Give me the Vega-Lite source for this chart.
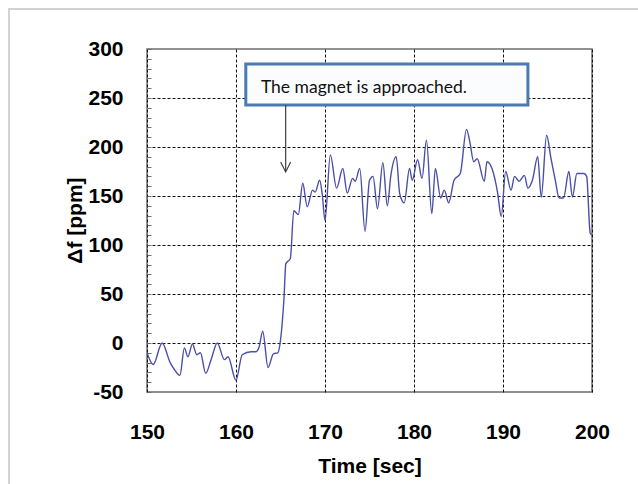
{
  "$schema": "https://vega.github.io/schema/vega-lite/v6.json",
  "width": 445,
  "height": 343,
  "autosize": {"type": "none"},
  "padding": {"left": 147, "top": 49, "right": 46, "bottom": 92},
  "background": "white",
  "config": {
    "view": {"stroke": "#6e6e6e", "strokeWidth": 1.5},
    "font": "Liberation Sans"
  },
  "datasets": {
    "series": [
      {"t": 150.0, "v": -10}, {"t": 150.7, "v": -22}, {"t": 151.7, "v": 0}, {"t": 152.6, "v": -20},
      {"t": 153.0, "v": -26}, {"t": 153.7, "v": -33}, {"t": 154.2, "v": -5}, {"t": 154.6, "v": -14},
      {"t": 155.1, "v": -1}, {"t": 155.6, "v": -12}, {"t": 156.0, "v": -10}, {"t": 156.6, "v": -31},
      {"t": 157.2, "v": -17}, {"t": 157.9, "v": 0}, {"t": 158.7, "v": -17}, {"t": 159.1, "v": -14},
      {"t": 160.0, "v": -38}, {"t": 160.7, "v": -12}, {"t": 161.7, "v": -9}, {"t": 162.2, "v": -9},
      {"t": 162.6, "v": -4}, {"t": 163.0, "v": 12}, {"t": 163.6, "v": -25}, {"t": 164.2, "v": -11},
      {"t": 164.7, "v": -10}, {"t": 165.0, "v": 3}, {"t": 165.4, "v": 47}, {"t": 165.6, "v": 81},
      {"t": 166.1, "v": 86}, {"t": 166.5, "v": 135}, {"t": 167.0, "v": 131}, {"t": 167.5, "v": 163},
      {"t": 168.0, "v": 139}, {"t": 168.6, "v": 156}, {"t": 168.9, "v": 154}, {"t": 169.4, "v": 166},
      {"t": 169.7, "v": 151}, {"t": 170.0, "v": 125}, {"t": 170.6, "v": 192}, {"t": 171.3, "v": 158},
      {"t": 172.0, "v": 178}, {"t": 172.5, "v": 153}, {"t": 173.1, "v": 168}, {"t": 173.4, "v": 165},
      {"t": 173.9, "v": 178}, {"t": 174.5, "v": 114}, {"t": 175.0, "v": 166}, {"t": 175.4, "v": 170},
      {"t": 175.9, "v": 137}, {"t": 176.5, "v": 184}, {"t": 177.0, "v": 140}, {"t": 177.4, "v": 171},
      {"t": 178.0, "v": 190}, {"t": 178.4, "v": 152}, {"t": 178.9, "v": 143}, {"t": 179.5, "v": 178},
      {"t": 179.8, "v": 166}, {"t": 180.4, "v": 187}, {"t": 180.9, "v": 168}, {"t": 181.4, "v": 207},
      {"t": 182.0, "v": 132}, {"t": 182.4, "v": 178}, {"t": 183.0, "v": 148}, {"t": 183.4, "v": 156},
      {"t": 183.9, "v": 143}, {"t": 184.5, "v": 166}, {"t": 185.2, "v": 173}, {"t": 185.9, "v": 218},
      {"t": 186.3, "v": 204}, {"t": 186.7, "v": 185}, {"t": 187.1, "v": 188}, {"t": 187.9, "v": 165},
      {"t": 188.2, "v": 185}, {"t": 188.8, "v": 177}, {"t": 189.4, "v": 153}, {"t": 189.8, "v": 129},
      {"t": 190.3, "v": 175}, {"t": 190.9, "v": 156}, {"t": 191.3, "v": 170}, {"t": 191.8, "v": 165},
      {"t": 192.4, "v": 171}, {"t": 192.8, "v": 158}, {"t": 193.3, "v": 166}, {"t": 193.9, "v": 190},
      {"t": 194.3, "v": 149}, {"t": 194.9, "v": 212}, {"t": 195.4, "v": 188}, {"t": 195.9, "v": 165},
      {"t": 196.3, "v": 148}, {"t": 196.8, "v": 148}, {"t": 197.4, "v": 175}, {"t": 197.8, "v": 149},
      {"t": 198.3, "v": 173}, {"t": 199.1, "v": 173}, {"t": 199.4, "v": 170}, {"t": 199.8, "v": 112},
      {"t": 200.0, "v": 110}
    ],
    "frame": [{"x1": 134.5, "x2": 240, "y1": 340.8, "y2": -250}],
    "box": [{"x1": 161.1, "x2": 192.8, "y1": 242.9, "y2": 284.7}],
    "label": [{"x": 162.8, "y": 260.5, "text": "The magnet is approached."}],
    "arrow": [{"x": 165.58, "y1": 242.9, "y2": 175.5, "tip": 174.5}]
  },
  "layer": [
    {
      "data": {"name": "frame"},
      "mark": {"type": "rect", "fill": null, "stroke": "#d2d2d2", "strokeWidth": 2, "clip": false},
      "encoding": {
        "x": {"field": "x1", "type": "quantitative", "title": "Time [sec]"},
        "x2": {"field": "x2"},
        "y": {"field": "y1", "type": "quantitative", "title": "Δf [ppm]"},
        "y2": {"field": "y2"}
      }
    },
    {
      "data": {"name": "series"},
      "mark": {"type": "line", "color": "#4a4fa8", "strokeWidth": 1.4, "interpolate": "monotone", "clip": true},
      "encoding": {
        "x": {
          "field": "t", "type": "quantitative", "title": "Time [sec]",
          "scale": {"domain": [150, 200], "nice": false, "zero": false},
          "axis": {
            "values": [150, 160, 170, 180, 190, 200],
            "tickCount": 100,
            "format": "d",
            "domain": false,
            "ticks": false,
            "grid": true,
            "gridColor": "#111111",
            "gridDash": [3, 2],
            "gridWidth": 1,
            "labelFont": "Liberation Sans",
            "labelFontWeight": "bold",
            "labelFontSize": 21,
            "labelColor": "#000000",
            "labelPadding": 29,
            "labelFlush": false,
            "titleFont": "Liberation Sans",
            "titleFontWeight": "bold",
            "titleFontSize": 21,
            "titleColor": "#000000",
            "titlePadding": 13
          }
        },
        "y": {
          "field": "v", "type": "quantitative", "title": "Δf [ppm]",
          "scale": {"domain": [-50, 300], "nice": false, "zero": false},
          "axis": {
            "values": [-50, -40, -30, -20, -10, 0, 10, 20, 30, 40, 50, 60, 70, 80, 90, 100, 110, 120, 130, 140, 150, 160, 170, 180, 190, 200, 210, 220, 230, 240, 250, 260, 270, 280, 290, 300],
            "tickCount": 100,
            "labelExpr": "datum.value % 50 === 0 ? '' + datum.value : ''",
            "domain": false,
            "ticks": true,
            "tickSize": -4,
            "tickColor": "#6e6e6e",
            "tickWidth": 1,
            "grid": true,
            "gridColor": "#111111",
            "gridDash": [3, 2],
            "gridWidth": 1,
            "gridOpacity": {"condition": {"test": "datum.value % 50 === 0 && datum.value > -50 && datum.value < 300", "value": 1}, "value": 0},
            "labelFont": "Liberation Sans",
            "labelFontWeight": "bold",
            "labelFontSize": 21,
            "labelColor": "#000000",
            "labelPadding": 28,
            "labelFlush": false,
            "labelOverlap": false,
            "titleFont": "Liberation Sans",
            "titleFontWeight": "bold",
            "titleFontSize": 21,
            "titleColor": "#000000",
            "titleX": -72,
            "titleY": 171,
            "titleBaseline": "middle"
          }
        }
      }
    },
    {
      "data": {"name": "box"},
      "mark": {"type": "rect", "fill": "#fbfcfe", "stroke": "#4a7ab0", "strokeWidth": 3},
      "encoding": {
        "x": {"field": "x1", "type": "quantitative", "title": "Time [sec]"},
        "x2": {"field": "x2"},
        "y": {"field": "y1", "type": "quantitative", "title": "Δf [ppm]"},
        "y2": {"field": "y2"}
      }
    },
    {
      "data": {"name": "label"},
      "mark": {"type": "text", "align": "left", "baseline": "middle", "font": "Lato", "fontSize": 17.5, "color": "#111111"},
      "encoding": {
        "x": {"field": "x", "type": "quantitative", "title": "Time [sec]"},
        "y": {"field": "y", "type": "quantitative", "title": "Δf [ppm]"},
        "text": {"field": "text"}
      }
    },
    {
      "data": {"name": "arrow"},
      "mark": {"type": "rule", "color": "#404040", "strokeWidth": 1.2},
      "encoding": {
        "x": {"field": "x", "type": "quantitative", "title": "Time [sec]"},
        "y": {"field": "y1", "type": "quantitative", "title": "Δf [ppm]"},
        "y2": {"field": "y2"}
      }
    },
    {
      "data": {"name": "arrow"},
      "mark": {"type": "point", "shape": "M-0.5,-1L0,0L0.5,-1", "filled": false, "stroke": "#404040", "strokeWidth": 1.2, "size": 400, "opacity": 1},
      "encoding": {
        "x": {"field": "x", "type": "quantitative", "title": "Time [sec]"},
        "y": {"field": "tip", "type": "quantitative", "title": "Δf [ppm]"}
      }
    }
  ]
}
